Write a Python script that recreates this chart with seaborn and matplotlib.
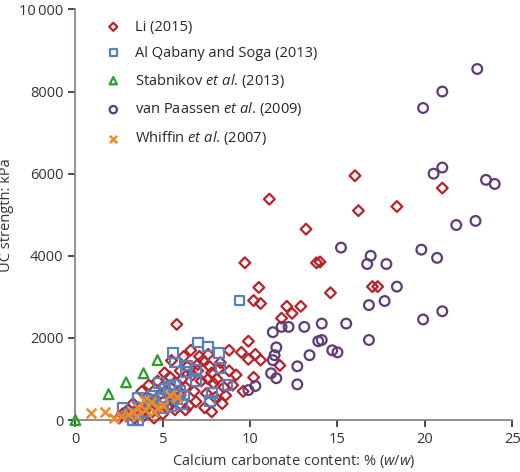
import pandas as pd
import matplotlib.pyplot as plt
import seaborn as sns

# Li (2015)
li_x = [16.0, 16.2, 18.4, 21.0, 11.1, 13.2, 14.0, 14.6, 9.7, 13.8, 10.5, 10.2, 10.6, 12.1, 12.9,
        11.8, 5.8, 9.9, 9.5, 10.3, 9.9, 10.6, 11.7, 10.2, 17.0, 17.3, 12.4,
        3.2, 3.6, 4.0, 4.3, 4.6, 4.9, 5.2, 5.5, 5.8, 6.1, 6.4, 6.7, 7.0, 7.3, 7.6, 7.9, 8.2, 8.5, 8.8,
        3.4, 3.9, 4.4, 4.8, 5.3, 5.6, 6.0, 6.3, 6.8, 7.2, 7.5, 7.8, 8.1, 8.6, 9.0,
        2.5, 2.9, 3.3, 3.8, 4.2, 4.7, 5.1, 5.5, 6.2, 6.6, 7.1, 7.7, 8.3, 9.2, 9.6,
        4.5, 5.0, 5.7, 6.5, 6.9, 7.4, 8.0, 8.4, 4.1, 5.4, 6.0, 7.0, 7.6, 6.3, 8.8, 3.0, 2.7, 7.8]
li_y = [5950, 5100, 5200, 5650, 5380, 4650, 3850, 3100, 3830, 3830, 3230, 2910, 2840, 2770, 2770,
        2480, 2330, 1920, 1650, 1600, 1480, 1460, 1330, 1040, 3250, 3250, 2600,
        150, 300, 250, 500, 400, 650, 700, 550, 900, 1000, 1300, 1100, 1200, 1450, 1000, 900, 1250, 800, 1200,
        50, 100, 200, 350, 300, 450, 600, 800, 700, 950, 650, 1150, 1000, 600, 850,
        50, 100, 400, 700, 850, 950, 1150, 1450, 1550, 1700, 1550, 1300, 1400, 1100, 700,
        50, 150, 250, 350, 450, 300, 550, 400, 550, 1050, 1200, 1350, 1600, 250, 1700, 250, 150, 200]

# Al Qabany and Soga (2013)
aq_x = [9.4, 7.0, 7.6, 8.2, 5.6, 5.7, 6.4, 6.3, 6.9, 8.3, 8.7, 6.9, 7.8, 7.7, 2.7, 3.6, 3.3, 3.6,
        4.8, 5.1, 5.4, 5.7, 6.0, 6.2, 4.9, 5.3, 5.8, 6.1, 4.5, 5.0, 5.5, 4.2, 3.9, 4.4, 3.1]
aq_y = [2910, 1890, 1790, 1630, 1630, 1400, 1330, 1170, 1230, 1260, 850, 950, 660, 460, 290, 530, 0, 0,
        900, 750, 800, 850, 700, 600, 550, 650, 500, 400, 450, 300, 350, 500, 200, 600, 150]

# Stabnikov et al. (2013)
st_x = [0.0, 1.9, 2.9, 3.9, 4.7]
st_y = [0, 630, 920, 1140, 1460]

# van Paassen et al. (2009)
vp_x = [23.0, 21.0, 19.9, 21.0, 20.5, 23.5, 24.0, 22.9, 21.8, 20.7, 19.8, 16.9, 16.7, 15.2, 17.8,
        18.4, 16.8, 15.5, 17.7, 19.9, 21.0, 16.8, 14.1, 11.3, 11.8, 12.2, 13.1, 13.9, 11.5, 11.4,
        11.3, 13.4, 12.7, 12.7, 11.2, 11.5, 10.3, 9.9, 14.7, 15.0, 14.1]
vp_y = [8550, 8000, 7600, 6150, 6000, 5850, 5750, 4850, 4750, 3950, 4150, 4000, 3800, 4200, 3800,
        3250, 2800, 2350, 2900, 2450, 2650, 1950, 2350, 2140, 2270, 2270, 2270, 1920, 1770, 1580,
        1460, 1580, 1310, 870, 1140, 1020, 830, 730, 1700, 1650, 1950]

# Whiffin et al. (2007)
wh_x = [0.9, 1.7, 3.3, 4.7, 5.8, 4.0, 3.0, 3.6, 4.3, 5.0, 2.6, 3.9, 4.5, 5.4, 3.5, 2.2]
wh_y = [170, 190, 190, 320, 560, 250, 150, 300, 450, 350, 100, 500, 200, 600, 100, 50]

sns.set_theme(style="ticks")
plt.rcParams['font.family'] = ['Open Sans', 'DejaVu Sans']
plt.rcParams['mathtext.fontset'] = 'custom'
plt.rcParams['mathtext.it'] = 'Open Sans:italic'
plt.rcParams['mathtext.rm'] = 'Open Sans'

fig, ax = plt.subplots(figsize=(5.2, 4.72), dpi=100)

series = [
    ("Li (2015)", li_x, li_y, "D", "#b8232a", 5.5),
    ("Al Qabany and Soga (2013)", aq_x, aq_y, "s", "#5b7fb8", 7),
    ("Stabnikov $\\it{et\\ al}$. (2013)", st_x, st_y, "^", "#2ca02c", 7),
    ("van Paassen $\\it{et\\ al}$. (2009)", vp_x, vp_y, "o", "#5e3c7a", 7),
    ("Whiffin $\\it{et\\ al}$. (2007)", wh_x, wh_y, "x", "#f0892a", 7),
]
for label, xs, ys, m, c, s in series:
    df = pd.DataFrame({"x": xs, "y": ys})
    if m == "x":
        sns.scatterplot(data=df, x="x", y="y", ax=ax, marker="x", color=c, s=s ** 2,
                        linewidth=1.8, label=label, zorder=3)
    else:
        sns.scatterplot(data=df, x="x", y="y", ax=ax, marker=m, facecolor="none", edgecolor=c,
                        s=s ** 2, linewidth=1.6, label=label, zorder=3)

ax.set_xlim(0, 25)
ax.set_ylim(0, 10000)
ax.set_xticks([0, 5, 10, 15, 20, 25])
ax.set_yticks([0, 2000, 4000, 6000, 8000, 10000])
ax.set_yticklabels(["0", "2000", "4000", "6000", "8000", "10\u2009000"])
ax.set_xlabel("Calcium carbonate content: % ($\\it{w/w}$)", fontsize=10.5, color="#333333")
ax.set_ylabel("UC strength: kPa", fontsize=10.5, color="#333333", labelpad=4)
ax.tick_params(colors="#333333", labelsize=10.5, direction="out", length=5)
for sp in ["left", "bottom"]:
    ax.spines[sp].set_color("#8a7f7a")
sns.despine(ax=ax)
ax.legend(loc="upper left", frameon=False, fontsize=10.5, handletextpad=0.5, markerscale=0.75,
          labelspacing=0.75, borderaxespad=0.3, bbox_to_anchor=(0.03, 1.0))
ax.margins(0)
for c in ax.collections:
    c.set_clip_on(False)

fig.subplots_adjust(left=0.145, right=0.985, bottom=0.11, top=0.98)
fig.savefig("out.png")
